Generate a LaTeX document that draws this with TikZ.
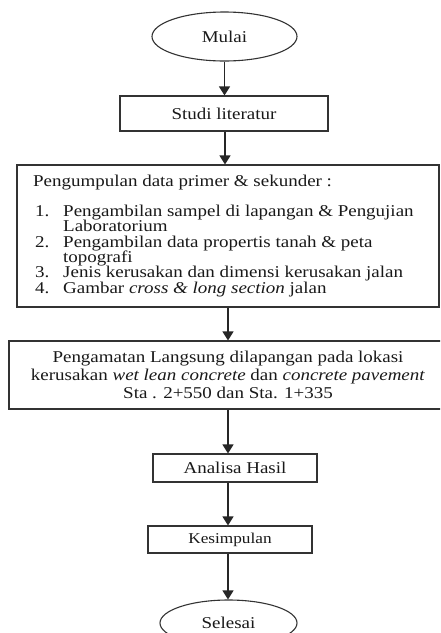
\documentclass[tikz,border=0pt]{standalone}
\usepackage{fontspec}
\setmainfont{Liberation Serif}[FakeStretch=1.15]
\usetikzlibrary{shapes.geometric,arrows.meta,calc}
\tikzset{
  lnc/.style={draw=black!80, line width=1.1pt},
  oval/.style={lnc, ellipse, inner sep=0pt, text=black!90, font=\fontsize{16.5}{18}\selectfont},
  pbox/.style={lnc, rectangle, inner sep=0pt, text=black!90, align=center, font=\fontsize{16.5}{18}\selectfont},
  ltxt/.style={anchor=base west, inner sep=0pt, text=black!90, font=\fontsize{16.5}{18}\selectfont},
  arr/.style={draw=black!85, line width=1.1pt, -{Triangle[width=11pt,length=9pt]}}
}
\begin{document}
\begin{tikzpicture}[x=1pt,y=-1pt]
\clip (0,0) rectangle (440,633);
\fill[white] (0,0) rectangle (440,633);
% nodes
\node[oval, minimum width=145pt, minimum height=49pt] (mulai) at (224.5,36.5) {Mulai};
\node[pbox, minimum width=208pt, minimum height=35pt] (studi) at (224,113.5) {Studi literatur};
\node[pbox, minimum width=422pt, minimum height=142pt] (data) at (228,236) {};
\node[ltxt] (h0) at (33,186) {Pengumpulan data primer \& sekunder :};
\node[ltxt] (n1) at (35,216.5) {1.};
\node[ltxt] (t1a) at (63,216.5) {Pengambilan sampel di lapangan \& Pengujian};
\node[ltxt] (t1b) at (63,231.8) {Laboratorium};
\node[ltxt] (n2) at (35,247.1) {2.};
\node[ltxt] (t2a) at (63,247.1) {Pengambilan data propertis tanah \& peta};
\node[ltxt] (t2b) at (63,262.4) {topografi};
\node[ltxt] (n3) at (35,277.7) {3.};
\node[ltxt] (t3) at (63,277.7) {Jenis kerusakan dan dimensi kerusakan jalan};
\node[ltxt] (n4) at (35,293) {4.};
\node[ltxt] (t4) at (63,293) {Gambar \textit{cross \& long section} jalan};
\node[pbox, minimum width=438pt, minimum height=68pt] (amati) at (228,375)
  {Pengamatan Langsung dilapangan pada lokasi\\
   kerusakan \textit{wet lean concrete} dan \textit{concrete pavement}\\
   Sta . 2+550 dan Sta. 1+335};
\node[pbox, minimum width=164pt, minimum height=28pt] (analisa) at (235,468) {Analisa Hasil};
\node[pbox, minimum width=164pt, minimum height=27pt, font=\fontsize{15}{16}\selectfont] (kesimpulan) at (230,539.5) {Kesimpulan};
\node[oval, minimum width=137pt, minimum height=46pt] (selesai) at (228.5,623) {Selesai};
% connectors
\draw[arr] (mulai.south) -- (mulai.south |- studi.north);
\draw[arr] ($(studi.south)+(1pt,0)$) -- ($(studi.south |- data.north)+(1pt,0)$);
\draw[arr] (data.south) -- (data.south |- amati.north);
\draw[arr] (amati.south) -- (amati.south |- analisa.north);
\draw[arr] (amati.south |- analisa.south) -- (amati.south |- kesimpulan.north);
\draw[arr] (amati.south |- kesimpulan.south) -- (amati.south |- selesai.north);
\end{tikzpicture}
\end{document}
